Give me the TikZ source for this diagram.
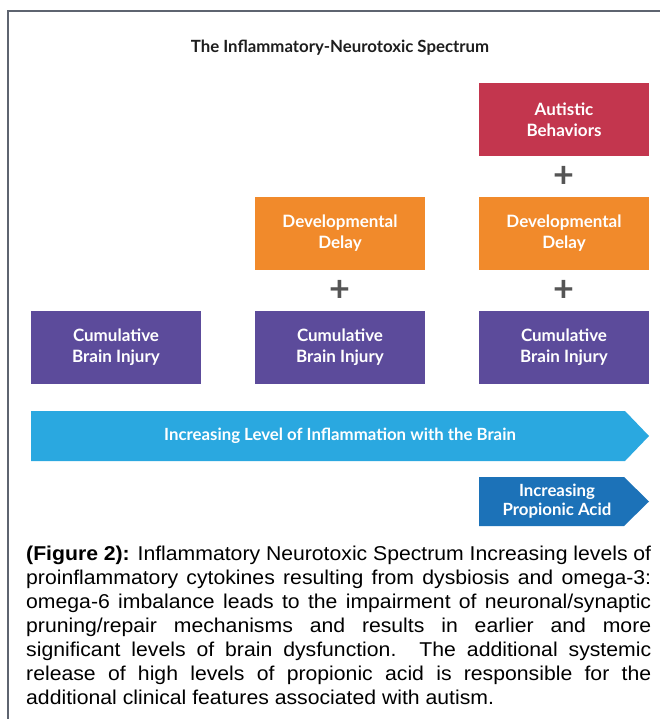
\documentclass[tikz,border=0pt]{standalone}
\usepackage{fontspec}
\setmainfont{Liberation Sans}
\newfontfamily\capfont[FakeStretch=1.06]{Liberation Sans}
\newfontfamily\lato{Lato}
\definecolor{cpurple}{HTML}{5C4B9B}
\definecolor{corange}{HTML}{F18A2B}
\definecolor{cred}{HTML}{C3364E}
\definecolor{clblue}{HTML}{2AA8E0}
\definecolor{cdblue}{HTML}{1C72B8}
\definecolor{ctitle}{HTML}{1E1E1E}
\definecolor{cplus}{HTML}{555555}
\definecolor{cframe}{HTML}{5E6470}
\begin{document}
\begin{tikzpicture}[x=1bp,y=-1bp,
  box/.style={minimum width=170bp, minimum height=73bp, inner sep=0pt, align=center,
    text=white, font=\lato\bfseries\fontsize{17bp}{21bp}\selectfont},
  purplebox/.style={box, fill=cpurple},
  orangebox/.style={box, fill=corange},
  redbox/.style={box, fill=cred},
  plussign/.style={text=cplus, inner sep=0pt, font=\lato\bfseries\fontsize{36bp}{36bp}\selectfont},
  arrowtext/.style={text=white, align=center, inner sep=0pt, font=\lato\bfseries\fontsize{16.8bp}{19bp}\selectfont}]
\useasboundingbox (0,0) rectangle (660,719);
\fill[white] (0,0) rectangle (660,719);
\draw[cframe, line width=1.5bp] (8,719) -- (8,11) -- (661,11);
\node[text=ctitle, font=\lato\bfseries\fontsize{16.8bp}{19bp}\selectfont] (title) at (340,48) {The Inflammatory-Neurotoxic Spectrum};
% boxes
\node[redbox] (aut) at (564,119.5) {Autistic\\Behaviors};
\node[orangebox] (dd2) at (340,233.5) {Developmental\\Delay};
\node[orangebox] (dd3) at (564,233.5) {Developmental\\Delay};
\node[purplebox] (cb1) at (116,347.5) {Cumulative\\Brain Injury};
\node[purplebox] (cb2) at (340,347.5) {Cumulative\\Brain Injury};
\node[purplebox] (cb3) at (564,347.5) {Cumulative\\Brain Injury};
\node[plussign] (p1) at (564,177) {+};
\node[plussign] (p2) at (340,291) {+};
\node[plussign] (p3) at (564,291) {+};
% arrows
\fill[clblue] (31,411) -- (625,411) -- (649,436) -- (625,461) -- (31,461) -- cycle;
\node[arrowtext] (infl) at (340,436) {Increasing Level of Inflammation with the Brain};
\fill[cdblue] (479,477) -- (624,477) -- (649,501.5) -- (624,526) -- (479,526) -- cycle;
\node[arrowtext] (prop) at (557,501.5) {Increasing\\Propionic Acid};
% caption
\node[anchor=north west, inner sep=0pt, text width=625bp, align=justify,
  font=\capfont\fontsize{20bp}{24bp}\selectfont] (cap) at (26,545)
{\rule{0pt}{15bp}\textbf{(Figure 2):} Inflammatory Neurotoxic Spectrum Increasing levels of\linebreak
proinflammatory cytokines resulting from dysbiosis and omega-3:\linebreak
omega-6 imbalance leads to the impairment of neuronal/synaptic\linebreak
pruning/repair mechanisms and results in earlier and more\linebreak
significant levels of brain dysfunction. The additional systemic\linebreak
release of high levels of propionic acid is responsible for the\linebreak
additional clinical features associated with autism.};
\end{tikzpicture}
\end{document}
